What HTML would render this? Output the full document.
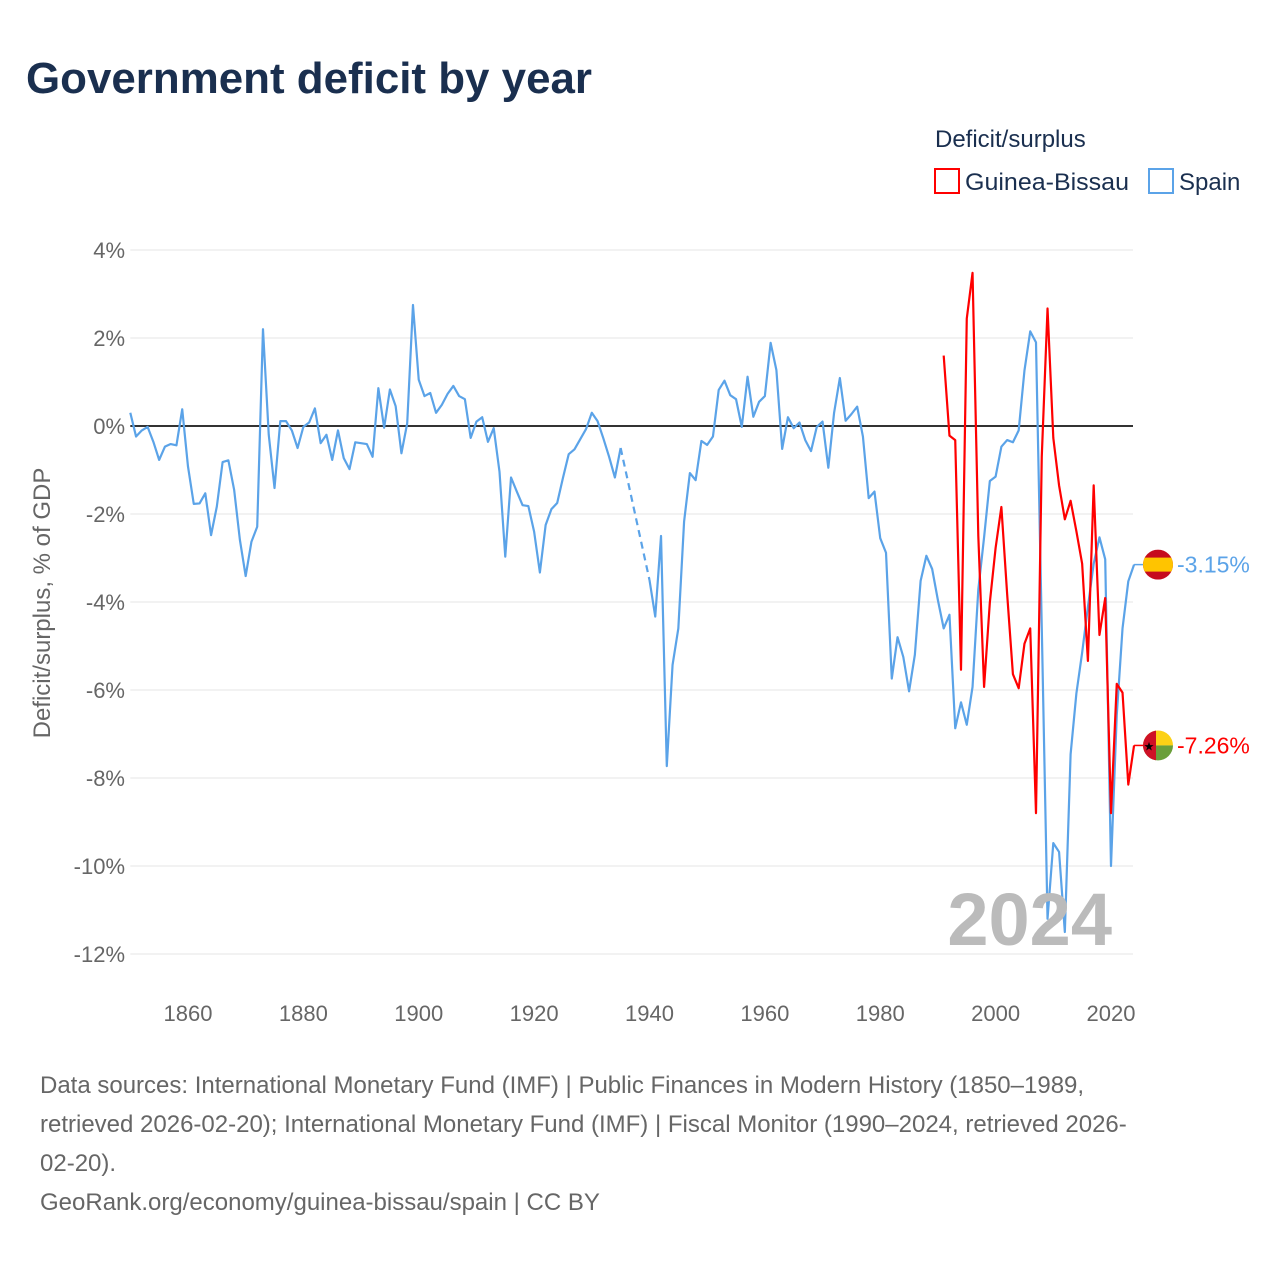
<!DOCTYPE html>
<html><head><meta charset="utf-8">
<style>
body{margin:0;background:#fff;font-family:"Liberation Sans",sans-serif;}
#wrap{position:relative;width:1280px;height:1280px;overflow:hidden;}
svg text{font-family:"Liberation Sans",sans-serif;}
.foot{position:absolute;left:40px;top:1066px;width:1230px;font-size:24px;line-height:39px;color:#666;white-space:nowrap;}
</style></head><body>
<div id="wrap">
<svg id="chart" width="1280" height="1060" style="position:absolute;left:0;top:0">
<text x="26" y="93" font-size="44" font-weight="bold" fill="#1a2f4f" textLength="566" lengthAdjust="spacingAndGlyphs">Government deficit by year</text>
<text x="935" y="147" font-size="24" fill="#1a2f4f">Deficit/surplus</text>
<g><rect x="935" y="169" width="24" height="24" fill="none" stroke="#ff0000" stroke-width="2"/><text x="965" y="190" font-size="24" fill="#1a2f4f" textLength="164" lengthAdjust="spacingAndGlyphs">Guinea-Bissau</text></g>
<g><rect x="1149" y="169" width="24" height="24" fill="none" stroke="#5ba3e8" stroke-width="2"/><text x="1179" y="190" font-size="24" fill="#1a2f4f">Spain</text></g>
<text transform="translate(50,603) rotate(-90)" text-anchor="middle" font-size="24" fill="#666">Deficit/surplus, % of GDP</text>
<g id="grid"></g><g id="series"></g>
<text x="1112" y="945" text-anchor="end" font-size="74" font-weight="bold" fill="#bbb">2024</text>
</svg>
<div class="foot">Data sources: International Monetary Fund (IMF) | Public Finances in Modern History (1850–1989,<br>retrieved 2026-02-20); International Monetary Fund (IMF) | Fiscal Monitor (1990–2024, retrieved 2026-<br>02-20).<br><span>GeoRank.org/economy/guinea-bissau/spain | CC BY</span></div>
</div>
<script>
const yTicks=[4,2,0,-2,-4,-6,-8,-10,-12];
const xTicks=[1860,1880,1900,1920,1940,1960,1980,2000,2020];
const spainStart=1850;
const spainValues=[0.30,-0.24,-0.1,-0.02,-0.36,-0.77,-0.47,-0.41,-0.44,0.38,
-0.92,-1.77,-1.76,-1.53,-2.48,-1.83,-0.82,-0.78,-1.45,-2.59,
-3.41,-2.63,-2.29,2.2,-0.2,-1.41,0.11,0.11,-0.1,-0.5,
-0.02,0.08,0.4,-0.39,-0.2,-0.77,-0.1,-0.73,-0.98,-0.37,
-0.39,-0.41,-0.7,0.86,-0.04,0.83,0.45,-0.62,0.06,2.75,
1.05,0.68,0.75,0.3,0.48,0.73,0.91,0.68,0.61,-0.27,
0.1,0.2,-0.36,-0.05,-1.04,-2.97,-1.17,-1.49,-1.8,-1.82,
-2.4,-3.33,-2.25,-1.89,-1.75,-1.18,-0.64,-0.53,-0.3,-0.07,
0.3,0.11,-0.28,-0.7,-1.17,-0.5,null,null,null,null,
-3.5,-4.33,-2.5,-7.73,-5.43,-4.6,-2.17,-1.07,-1.23,-0.34,
-0.43,-0.24,0.82,1.03,0.7,0.61,-0.02,1.12,0.21,0.55,
0.68,1.89,1.27,-0.52,0.2,-0.05,0.08,-0.32,-0.57,-0.02,
0.1,-0.95,0.3,1.09,0.12,0.27,0.44,-0.24,-1.64,-1.49,
-2.55,-2.88,-5.74,-4.8,-5.25,-6.03,-5.2,-3.52,-2.95,-3.25,
-3.96,-4.6,-4.29,-6.87,-6.28,-6.79,-5.93,-3.72,-2.53,-1.25,
-1.15,-0.47,-0.32,-0.37,-0.1,1.26,2.15,1.9,-4.57,-11.2,
-9.48,-9.68,-11.5,-7.46,-6.08,-5.15,-4.11,-3.13,-2.53,-3.03,
-10.0,-6.57,-4.6,-3.53,-3.15];
const gbStart=1991;
const gbValues=[1.6,-0.22,-0.32,-5.54,2.44,3.48,-2.5,-5.93,-4.01,-2.77,
-1.84,-3.82,-5.64,-5.96,-4.95,-4.6,-8.8,-0.7,2.67,-0.27,
-1.35,-2.12,-1.7,-2.39,-3.13,-5.34,-1.35,-4.75,-3.91,-8.8,
-5.86,-6.06,-8.15,-7.26];
const NS='http://www.w3.org/2000/svg';
const X0=130.3,X1=1133;
function xs(yr){return 130.3+(yr-1850)*(1111-188)/160;}
function ys(v){return 426-v*44;}
function mk(tag,attrs,parent){const e=document.createElementNS(NS,tag);for(const k in attrs)e.setAttribute(k,attrs[k]);parent.appendChild(e);return e;}
const grid=document.getElementById('grid');
yTicks.forEach(t=>{
  const l=mk('line',{x1:X0,x2:X1,y1:ys(t),y2:ys(t),stroke:t===0?'#333':'#e6e6e6','stroke-width':t===0?2:1},grid);
  
  
  const tx=mk('text',{x:125,y:ys(t)+8,'text-anchor':'end','font-size':22,fill:'#666'},grid);
  tx.textContent=t+'%';
  
  
});
xTicks.forEach(t=>{
  const tx=mk('text',{x:xs(t),y:1021,'text-anchor':'middle','font-size':22,fill:'#666'},grid);
  tx.textContent=t;
  
  
});
const ser=document.getElementById('series');
function drawSeries(start,vals,color,name){
  let segs=[],cur=[],gaps=[];let last=null;
  vals.forEach((v,i)=>{
    const yr=start+i;
    if(v===null){if(cur.length){segs.push(cur);cur=[];}return;}
    if(last&&last.i!==i-1)gaps.push([last.p,[xs(yr),ys(v)]]);
    const p=[xs(yr),ys(v)];cur.push(p);last={i,p};
  });
  if(cur.length)segs.push(cur);
  segs.forEach(s=>{
    const pl=mk('polyline',{points:s.map(p=>p.join(',')).join(' '),fill:'none',stroke:color,'stroke-width':2.2,'stroke-linejoin':'round'},ser);
    
    
  });
  gaps.forEach(g=>{
    const dl=mk('line',{x1:g[0][0],y1:g[0][1],x2:g[1][0],y2:g[1][1],stroke:color,'stroke-width':2.2,'stroke-dasharray':'7,5'},ser);
    
    
  });
  return last.p;
}
const sp=drawSeries(spainStart,spainValues,'#5ba3e8','spain');
const gb=drawSeries(gbStart,gbValues,'#ff0000','guinea-bissau');
function endLabel(p,color,val,name,flag){
  const cx=1158,cy=p[1];
  mk('line',{x1:p[0],y1:cy,x2:cx-14,y2:cy,stroke:color,'stroke-width':1.5},ser);
  const g=mk('g',{},ser);
  
  
  const cp='cp'+name;
  const d=mk('defs',{},g);const c=mk('clipPath',{id:cp},d);mk('circle',{cx:cx,cy:cy,r:15},c);
  const gg=mk('g',{'clip-path':'url(#'+cp+')'},g);
  if(flag==='es'){
    mk('rect',{x:cx-15,y:cy-15,width:30,height:30,fill:'#c60b1e'},gg);
    mk('rect',{x:cx-15,y:cy-7,width:30,height:14,fill:'#ffc400'},gg);
  }else{
    mk('rect',{x:cx-15,y:cy-15,width:30,height:15,fill:'#fcd116'},gg);
    mk('rect',{x:cx-15,y:cy,width:30,height:15,fill:'#6a9f3a'},gg);
    mk('rect',{x:cx-15,y:cy-15,width:13,height:30,fill:'#ce1126'},gg);
    const s=mk('text',{x:cx-9,y:cy+5,'text-anchor':'middle','font-size':12,fill:'#000'},gg);s.textContent='★';
  }
  const t=mk('text',{x:1177,y:cy+8,'font-size':23,fill:color},ser);
  t.textContent=val;
  
  
}
endLabel(sp,'#5ba3e8','-3.15%','spain','es');
endLabel(gb,'#ff0000','-7.26%','guinea-bissau','gw');
</script>
</body></html>
